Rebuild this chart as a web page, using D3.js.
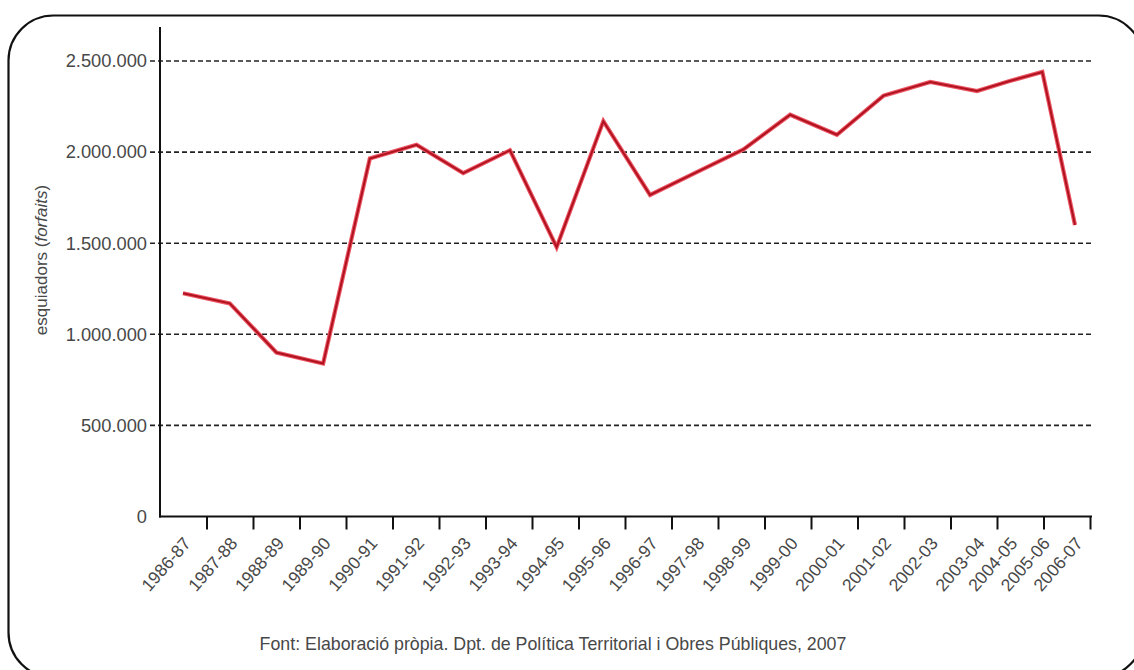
<!DOCTYPE html>
<html><head><meta charset="utf-8">
<script src="https://cdn.jsdelivr.net/npm/d3@7"></script>
<style>body{margin:0;background:#fff;} svg{display:block;}</style>
</head><body><svg id="c" width="1134" height="670"></svg>
<script>
// ---- data ----
const seasons = ["1986-87","1987-88","1988-89","1989-90","1990-91","1991-92","1992-93","1993-94","1994-95","1995-96","1996-97","1997-98","1998-99","1999-00","2000-01","2001-02","2002-03","2003-04","2004-05","2005-06","2006-07"];
const skiers = [1225000,1170000,900000,840000,1965000,2040000,1885000,2010000,1478000,2170000,1765000,1890000,2015000,2205000,2095000,2310000,2385000,2335000,2390000,2440000,1600000];
const yTicks = [0,500000,1000000,1500000,2000000,2500000];
const yTickLabels = ["0","500.000","1.000.000","1.500.000","2.000.000","2.500.000"];
const yTitle = "esquiadors (forfaits)";
const sourceText = "Font: Elaboració pròpia. Dpt. de Política Territorial i Obres Públiques, 2007";

// ---- layout ----
const svg = d3.select("#c");
const FONT = "'Liberation Sans', Arial, sans-serif";
const TXT = "#484848";

svg.append("rect").attr("x",8.5).attr("y",15.5).attr("width",1135).attr("height",662)
  .attr("rx",45).attr("ry",45).attr("fill","#fff").attr("stroke","#111").attr("stroke-width",2.2);

const y = d3.scaleLinear().domain([0,2500000]).range([516.5,61]);
// category positions (the source compresses its last columns)
const xi = d3.scaleLinear().domain([0,17,20]).range([183,977,1075]);
const x = s => xi(seasons.indexOf(s));
const tickScale = d3.scaleLinear().domain([0,20]).range([160,1090]);

// gridlines
svg.append("g").selectAll("line").data(yTicks.filter(v=>v>0)).join("line")
  .attr("x1",150).attr("x2",1092).attr("y1",d=>y(d)).attr("y2",d=>y(d))
  .attr("stroke","#222").attr("stroke-width",1.6).attr("stroke-dasharray","5,3");

// y axis
const yAxis = d3.axisLeft(y).tickValues(yTicks).tickSize(0).tickPadding(13)
  .tickFormat((d,i)=>yTickLabels[i]);
const gy = svg.append("g").attr("transform","translate(160,0)").call(yAxis);
gy.select(".domain").remove();
gy.selectAll("text").attr("font-family",FONT).attr("font-size",18.3).attr("fill",TXT);
svg.append("line").attr("x1",160).attr("x2",160).attr("y1",27).attr("y2",517.5)
  .attr("stroke","#111").attr("stroke-width",2);

// x axis
const xAxis = d3.axisBottom(tickScale).tickValues(d3.range(1,21)).tickSize(13).tickFormat("");
const gx = svg.append("g").attr("transform","translate(0,516.5)").call(xAxis);
gx.select(".domain").remove();
gx.selectAll(".tick line").attr("stroke","#111").attr("stroke-width",2);
svg.append("line").attr("x1",159).attr("x2",1092).attr("y1",516.5).attr("y2",516.5)
  .attr("stroke","#111").attr("stroke-width",2.2);

// x labels
svg.append("g").selectAll("text").data(seasons).join("text")
  .attr("transform",d=>`translate(${x(d)+4},${540}) rotate(-49)`)
  .attr("text-anchor","end").attr("dy","0.35em")
  .attr("font-family",FONT).attr("font-size",17.5).attr("fill",TXT)
  .text(d=>d);

// line
const line = d3.line().x((d,i)=>x(seasons[i])).y(d=>y(d));
svg.append("path").datum(skiers).attr("d",line).attr("fill","none")
  .attr("stroke","#ec5664").attr("stroke-width",4.2).attr("stroke-linejoin","miter");
svg.append("path").datum(skiers).attr("d",line).attr("fill","none")
  .attr("stroke","#b0121f").attr("stroke-width",2).attr("stroke-linejoin","miter");

// y title
const t = svg.append("text").attr("transform","translate(41,260) rotate(-90)")
  .attr("text-anchor","middle").attr("dy","0.35em")
  .attr("font-family",FONT).attr("font-size",17).attr("fill",TXT);
const m = yTitle.match(/^(.*\()(.*)(\))$/);
t.append("tspan").text(m[1]);
t.append("tspan").attr("font-style","italic").text(m[2]);
t.append("tspan").text(m[3]);

// source
svg.append("text").attr("x",553).attr("y",650).attr("text-anchor","middle")
  .attr("font-family",FONT).attr("font-size",17.8).attr("fill",TXT)
  .text(sourceText);
</script></body></html>
